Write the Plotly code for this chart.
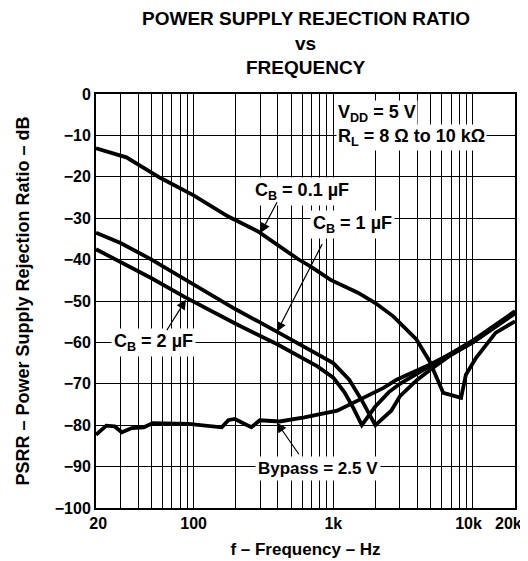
import math
import plotly.graph_objects as go

# ---------------- data ----------------
f_cb01 = [20, 33, 58, 100, 177, 289, 555, 690, 957, 1500, 2000, 2690, 3940, 4900,
          6130, 8220, 8900, 10500, 14500, 20000]
db_cb01 = [-13.1, -15.3, -20.3, -24.5, -29.6, -33.2, -39.8, -41.7, -44.9, -48.0, -50.5,
           -53.7, -59.3, -64.6, -72.2, -73.4, -67.8, -63.8, -57.7, -54.9]

f_cb1 = [20, 30, 50, 100, 200, 400, 700, 1000, 1300, 1600, 2000,
         2300, 2600, 3000, 4000, 5000, 7000, 10000, 14000, 20000]
db_cb1 = [-33.5, -36.0, -40.0, -46.0, -52.0, -57.5, -62.0, -65.0, -69.0, -74.0, -80.0,
          -78.0, -76.5, -73.0, -69.0, -66.5, -63.0, -60.0, -56.5, -53.0]

f_cb2 = [20, 30, 50, 86, 200, 400, 770, 1000, 1200, 1400, 1600,
         2000, 2500, 3000, 5000, 7000, 10000, 20000]
db_cb2 = [-37.5, -40.5, -44.5, -49.0, -55.5, -60.5, -65.8, -68.5, -72.0, -76.0, -80.0,
          -75.5, -72.0, -70.0, -65.5, -62.5, -59.5, -52.5]

f_byp = [20, 23.7, 27.2, 30.6, 36.1, 44, 51, 92, 159, 177, 197, 259, 298, 412, 620,
         1067, 2290, 2840, 4890, 10000, 20000]
db_byp = [-82.3, -80.1, -80.3, -81.7, -80.7, -80.5, -79.5, -79.7, -80.5, -78.8, -78.5,
          -80.5, -78.8, -79.1, -78.1, -76.5, -71.0, -69.0, -65.4, -60.0, -52.5]

x_grid = [20, 30, 40, 50, 60, 70, 80, 90, 100, 200, 300, 400, 500, 600, 700, 800, 900,
          1000, 2000, 3000, 4000, 5000, 6000, 7000, 8000, 9000, 10000, 20000]
NB = "\u00a0"
# the last label ("20k") is drawn as a separate text so that it stays inside the page
x_labels = {20: NB + "20", 100: "100", 1000: "1k", 10000: "10k" + NB * 2}
last_label = "20k"
y_ticks = [0, -10, -20, -30, -40, -50, -60, -70, -80, -90, -100]

# ---------------- layout geometry ----------------
# the page body has an 8 px margin, so the figure is drawn 8 px in from the corner
OFF = 8
W, H = 528 - OFF, 561 - OFF
PL, PR, PT, PB = 96, 515, 94, 508.5          # plot box in page pixels
L, R, T, B = PL - OFF, W - (PR - OFF), PT - OFF, H - (PB - OFF)
FONT = "Liberation Sans, Arial, Helvetica, sans-serif"


def px(X):
    return (X - PL) / (PR - PL)


def py(Y):
    return (PB - Y) / (PB - PT)


def bfont(size):
    return dict(size=size, family=FONT, color="black", weight="bold")


fig = go.Figure()
for fx, fy in [(f_cb01, db_cb01), (f_cb1, db_cb1), (f_cb2, db_cb2), (f_byp, db_byp)]:
    fig.add_trace(go.Scatter(x=fx, y=fy, mode="lines",
                             line=dict(color="black", width=3.8),
                             showlegend=False, hoverinfo="skip"))

fig.update_layout(
    width=W, height=H, autosize=False,
    margin=dict(l=L, r=R, t=T, b=B, pad=0),
    paper_bgcolor="white", plot_bgcolor="white",
    font=bfont(16),
    showlegend=False,
)

fig.update_xaxes(
    type="log", range=[math.log10(20), math.log10(20000)],
    tickvals=x_grid, ticktext=[x_labels.get(v, "") for v in x_grid],
    showgrid=True, gridcolor="black", gridwidth=1.3,
    showline=True, mirror=True, linecolor="black", linewidth=2,
    ticks="", tickfont=bfont(16), automargin=False, ticklabeloverflow="allow",
    title=dict(text="f – Frequency – Hz", font=bfont(17), standoff=12),
    zeroline=False,
)
fig.update_yaxes(
    range=[-100, 0], tickvals=y_ticks,
    ticktext=[("−" + str(-v)) if v < 0 else "0" for v in y_ticks],
    showgrid=True, gridcolor="black", gridwidth=1.3,
    showline=True, mirror=True, linecolor="black", linewidth=2,
    ticks="", tickfont=bfont(16), automargin=False, ticklabeloverflow="allow",
    title=dict(text="PSRR – Power Supply Rejection Ratio – dB", font=bfont(18), standoff=20),
    zeroline=False,
)

# "20k" tick label, pulled left of the border as in the reference
fig.add_annotation(text=last_label, xref="paper", yref="paper", x=px(508.5), y=py(524),
                   showarrow=False, xanchor="center", yanchor="middle", font=bfont(16))

# titles
for txt, Y in [("POWER SUPPLY REJECTION RATIO", 18), ("vs", 43), ("FREQUENCY", 67)]:
    fig.add_annotation(text=txt, xref="paper", yref="paper", x=px(305.5), y=py(Y),
                       showarrow=False, xanchor="center", yanchor="middle",
                       font=bfont(19))

# condition box
for txt, Y in [("V<sub>DD</sub> = 5 V", 114), ("R<sub>L</sub> = 8 Ω to 10 kΩ", 138)]:
    fig.add_annotation(text=txt, xref="paper", yref="paper", x=px(336), y=py(Y),
                       showarrow=False, xanchor="left", yanchor="middle",
                       bgcolor="white", borderpad=1, font=bfont(18))

# curve labels
for txt, X, Y, s in [("C<sub>B</sub> = 0.1 µF", 301.5, 192, 18),
                     ("C<sub>B</sub> = 1 µF", 352.5, 225, 18),
                     ("C<sub>B</sub> = 2 µF", 153, 343, 18),
                     ("Bypass = 2.5 V", 318, 469, 17)]:
    fig.add_annotation(text=txt, xref="paper", yref="paper", x=px(X), y=py(Y),
                       showarrow=False, xanchor="center", yanchor="middle",
                       bgcolor="white", borderpad=2, font=bfont(s))

# arrows (head on the curve, tail offset in pixels)
for hf, hdb, dx, dy in [(303, -33.5, 17, -32), (395, -57.4, 46, -89),
                        (88, -49.7, -20, 32), (395, -79.4, 23, 33)]:
    fig.add_annotation(x=math.log10(hf), y=hdb, xref="x", yref="y", text="",
                       showarrow=True, ax=dx, ay=dy, axref="pixel", ayref="pixel",
                       arrowhead=2, arrowsize=1.6, arrowwidth=1.2, arrowcolor="black",
                       standoff=0, startstandoff=0)

fig.write_html("out.html")
